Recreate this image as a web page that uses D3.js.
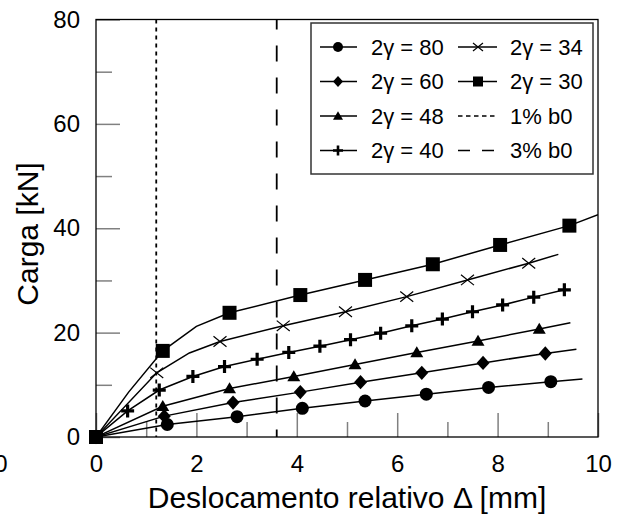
<!DOCTYPE html>
<html>
<head>
<meta charset="utf-8">
<script src="https://cdn.jsdelivr.net/npm/d3@7"></script>
<style>
body { margin: 0; background: #fff; }
svg { display: block; font-family: "Liberation Sans", Arial, sans-serif; }
</style>
</head>
<body>
<svg id="chart" width="627" height="518"></svg>
<script>
// each point: [deslocamento (mm), carga (kN), marker shown 1/0]
var curve80 = [[0,0,1],[1.42,2.4,1],[2.81,3.9,1],[4.11,5.5,1],[5.36,6.9,1],[6.58,8.2,1],[7.82,9.5,1],[9.06,10.6,1],[9.69,11.1,0]];
var curve60 = [[0,0,1],[1.36,4.0,1],[2.73,6.6,1],[4.07,8.6,1],[5.27,10.5,1],[6.49,12.3,1],[7.71,14.2,1],[8.95,16.0,1],[9.57,16.8,0]];
var curve48 = [[0,0,1],[1.33,5.9,1],[2.66,9.3,1],[3.94,11.6,1],[5.16,13.9,1],[6.39,16.2,1],[7.61,18.4,1],[8.83,20.7,1],[9.45,21.9,0]];
var curve40 = [[0,0,1],[0.63,5.0,1],[1.26,9.0,1],[1.93,11.6,1],[2.56,13.5,1],[3.21,14.9,1],[3.84,16.2,1],[4.46,17.4,1],
               [5.07,18.65,1],[5.67,19.9,1],[6.29,21.3,1],[6.90,22.6,1],[7.50,24.0,1],[8.10,25.3,1],[8.72,26.8,1],[9.33,28.2,1]];
var curve34 = [[0,0,1],[1.21,12.3,1],[1.86,16.1,0],[2.47,18.3,1],[3.73,21.3,1],[4.97,24.0,1],[6.19,26.9,1],[7.40,30.1,1],[8.62,33.3,1],[9.21,35.0,0]];
var curve30 = [[0,0,1],[0.65,8.6,0],[1.33,16.5,1],[2.0,21.2,0],[2.66,23.8,1],[4.07,27.2,1],[5.36,30.1,1],[6.71,33.1,1],[8.05,36.8,1],[9.43,40.5,1],[10.0,42.6,0]];

var seriesNames = ["2γ = 80", "2γ = 60", "2γ = 48", "2γ = 40", "2γ = 34", "2γ = 30"];
var seriesShapes = ["circle", "diamond", "triangle", "plus", "cross", "square"];
var seriesData = [curve80, curve60, curve48, curve40, curve34, curve30];

// vertical reference lines (mm)
var refValues = [1.2, 3.6];
var refNames = ["1% b0", "3% b0"];

var xMajor = [0, 2, 4, 6, 8, 10];
var xMinor = [1, 3, 5, 7, 9];
var yMajor = [0, 20, 40, 60, 80];
var yMinor = [10, 30, 50, 70];

var svg = d3.select("#chart");
var padL = 96, padR = 598, padT = 19.5, padB = 437;

var x = d3.scaleLinear().domain([0, 10]).range([padL, padR]);
var y = d3.scaleLinear().domain([0, 80]).range([padB, padT]);

function markerPath(shape, s) {
    var h = s / 2;
    if (shape == "circle") return d3.symbol(d3.symbolCircle, Math.PI * h * h)();
    if (shape == "square") return "M" + (-h) + "," + (-h) + "h" + s + "v" + s + "h" + (-s) + "Z";
    if (shape == "diamond") return "M0," + (-h * 1.1) + "L" + h + ",0L0," + (h * 1.1) + "L" + (-h) + ",0Z";
    if (shape == "triangle") return "M0," + (-h * 0.95) + "L" + h + "," + (h * 0.75) + "L" + (-h) + "," + (h * 0.75) + "Z";
    if (shape == "plus") return "M" + (-h) + ",0H" + h + "M0," + (-h) + "V" + h;
    if (shape == "cross") return "M" + (-h) + "," + (-h * 0.8) + "L" + h + "," + (h * 0.8) + "M" + (-h) + "," + (h * 0.8) + "L" + h + "," + (-h * 0.8);
}

function drawMarker(g, shape, s) {
    var p = g.append("path").attr("d", markerPath(shape, s));
    if (shape == "plus") {
        p.attr("fill", "none").attr("stroke", "#000").attr("stroke-width", s > 11 ? 3.2 : 2.6);
    } else if (shape == "cross") {
        p.attr("fill", "none").attr("stroke", "#000").attr("stroke-width", 1.2);
    } else {
        p.attr("fill", "#000");
    }
}

// axes with ticks pointing inside
var tickColor = "#808080";

var xAxisMajor = svg.append("g")
    .attr("transform", "translate(0," + padB + ")")
    .call(d3.axisBottom(x).tickValues(xMajor).tickSize(-24).tickPadding(18).tickFormat(d3.format("d")));
var xAxisMinor = svg.append("g")
    .attr("transform", "translate(0," + padB + ")")
    .call(d3.axisBottom(x).tickValues(xMinor).tickSize(-15).tickFormat(""));
var yAxisMajor = svg.append("g")
    .attr("transform", "translate(" + padL + ",0)")
    .call(d3.axisLeft(y).tickValues(yMajor).tickSize(-24).tickPadding(16).tickFormat(d3.format("d")));
var yAxisMinor = svg.append("g")
    .attr("transform", "translate(" + padL + ",0)")
    .call(d3.axisLeft(y).tickValues(yMinor).tickSize(-16).tickFormat(""));

[xAxisMajor, xAxisMinor, yAxisMajor, yAxisMinor].forEach(function (a) {
    a.select(".domain").remove();
    a.selectAll(".tick line").attr("stroke", tickColor).attr("stroke-width", 1.5);
    a.selectAll(".tick text").attr("fill", "#000").style("font-size", "24px").style("font-family", "'Liberation Sans', Arial, sans-serif");
});

// stray label cut at the left edge
svg.append("text")
    .attr("x", 1)
    .attr("y", padB + 18)
    .attr("dy", "0.71em")
    .attr("text-anchor", "middle")
    .style("font-size", "24px")
    .text("0");

// reference lines
svg.append("line")
    .attr("x1", x(refValues[0])).attr("x2", x(refValues[0]))
    .attr("y1", padT).attr("y2", padB)
    .attr("stroke", "#000").attr("stroke-width", 1.8)
    .attr("stroke-dasharray", "4,4");
svg.append("line")
    .attr("x1", x(refValues[1])).attr("x2", x(refValues[1]))
    .attr("y1", padT).attr("y2", padB)
    .attr("stroke", "#000").attr("stroke-width", 1.8)
    .attr("stroke-dasharray", "16,16")
    .attr("stroke-dashoffset", 6);

// frame
svg.append("rect")
    .attr("x", padL).attr("y", padT)
    .attr("width", padR - padL).attr("height", padB - padT)
    .attr("fill", "none").attr("stroke", "#000").attr("stroke-width", 1.3);

svg.append("clipPath").attr("id", "plotclip")
    .append("rect").attr("x", padL).attr("y", padT).attr("width", padR - padL).attr("height", padB - padT);

var line = d3.line()
    .x(function (d) { return x(d[0]); })
    .y(function (d) { return y(d[1]); });

var plot = svg.append("g").attr("clip-path", "url(#plotclip)");

seriesData.forEach(function (data, i) {
    plot.append("path")
        .datum(data)
        .attr("d", line)
        .attr("fill", "none")
        .attr("stroke", "#000")
        .attr("stroke-width", 1.5);
});

var markerLayer = svg.append("g");
seriesData.forEach(function (data, i) {
    var shape = seriesShapes[i];
    var size = shape == "square" ? 14 : 13;
    markerLayer.selectAll(".m" + i)
        .data(data.filter(function (d) { return d[2]; }))
        .enter().append("g")
        .attr("class", "m" + i)
        .attr("transform", function (d) { return "translate(" + x(d[0]) + "," + y(d[1]) + ")"; })
        .each(function () { drawMarker(d3.select(this), shape, size); });
});

// axis titles
svg.append("text")
    .attr("x", (padL + padR) / 2)
    .attr("y", 508)
    .attr("text-anchor", "middle")
    .style("font-size", "30px")
    .text("Deslocamento relativo Δ [mm]");

svg.append("text")
    .attr("transform", "translate(38,234) rotate(-90)")
    .attr("text-anchor", "middle")
    .style("font-size", "30px")
    .text("Carga [kN]");

// legend
var legend = svg.append("g");
legend.append("rect")
    .attr("x", 311).attr("y", 23)
    .attr("width", 282).attr("height", 151)
    .attr("fill", "#fff").attr("stroke", "#333").attr("stroke-width", 1.5);

var rowY = [47, 81.5, 116, 150.5];
var items = [];
seriesNames.forEach(function (n, i) {
    items.push({ name: n, shape: seriesShapes[i], col: i < 4 ? 0 : 1, row: i < 4 ? i : i - 4 });
});
items.push({ name: refNames[0], dash: "4.5,3.5", col: 1, row: 2 });
items.push({ name: refNames[1], dash: "12,12", col: 1, row: 3 });

var colLine = [[320, 357], [458, 497]];
var colText = [371, 510];

items.forEach(function (it) {
    var g = legend.append("g");
    var yy = rowY[it.row];
    var l = g.append("line")
        .attr("x1", colLine[it.col][0]).attr("x2", colLine[it.col][1])
        .attr("y1", yy).attr("y2", yy)
        .attr("stroke", "#000");
    if (it.dash) {
        l.attr("stroke-dasharray", it.dash).attr("stroke-width", 1.6);
    } else {
        l.attr("stroke-width", 1.5);
        var mx = it.col == 0 ? 338 : 478;
        var mg = g.append("g").attr("transform", "translate(" + mx + "," + yy + ")");
        drawMarker(mg, it.shape, 10);
    }
    g.append("text")
        .attr("x", colText[it.col])
        .attr("y", yy)
        .attr("dy", "0.36em")
        .style("font-size", "22px")
        .text(it.name);
});
</script>
</body>
</html>
